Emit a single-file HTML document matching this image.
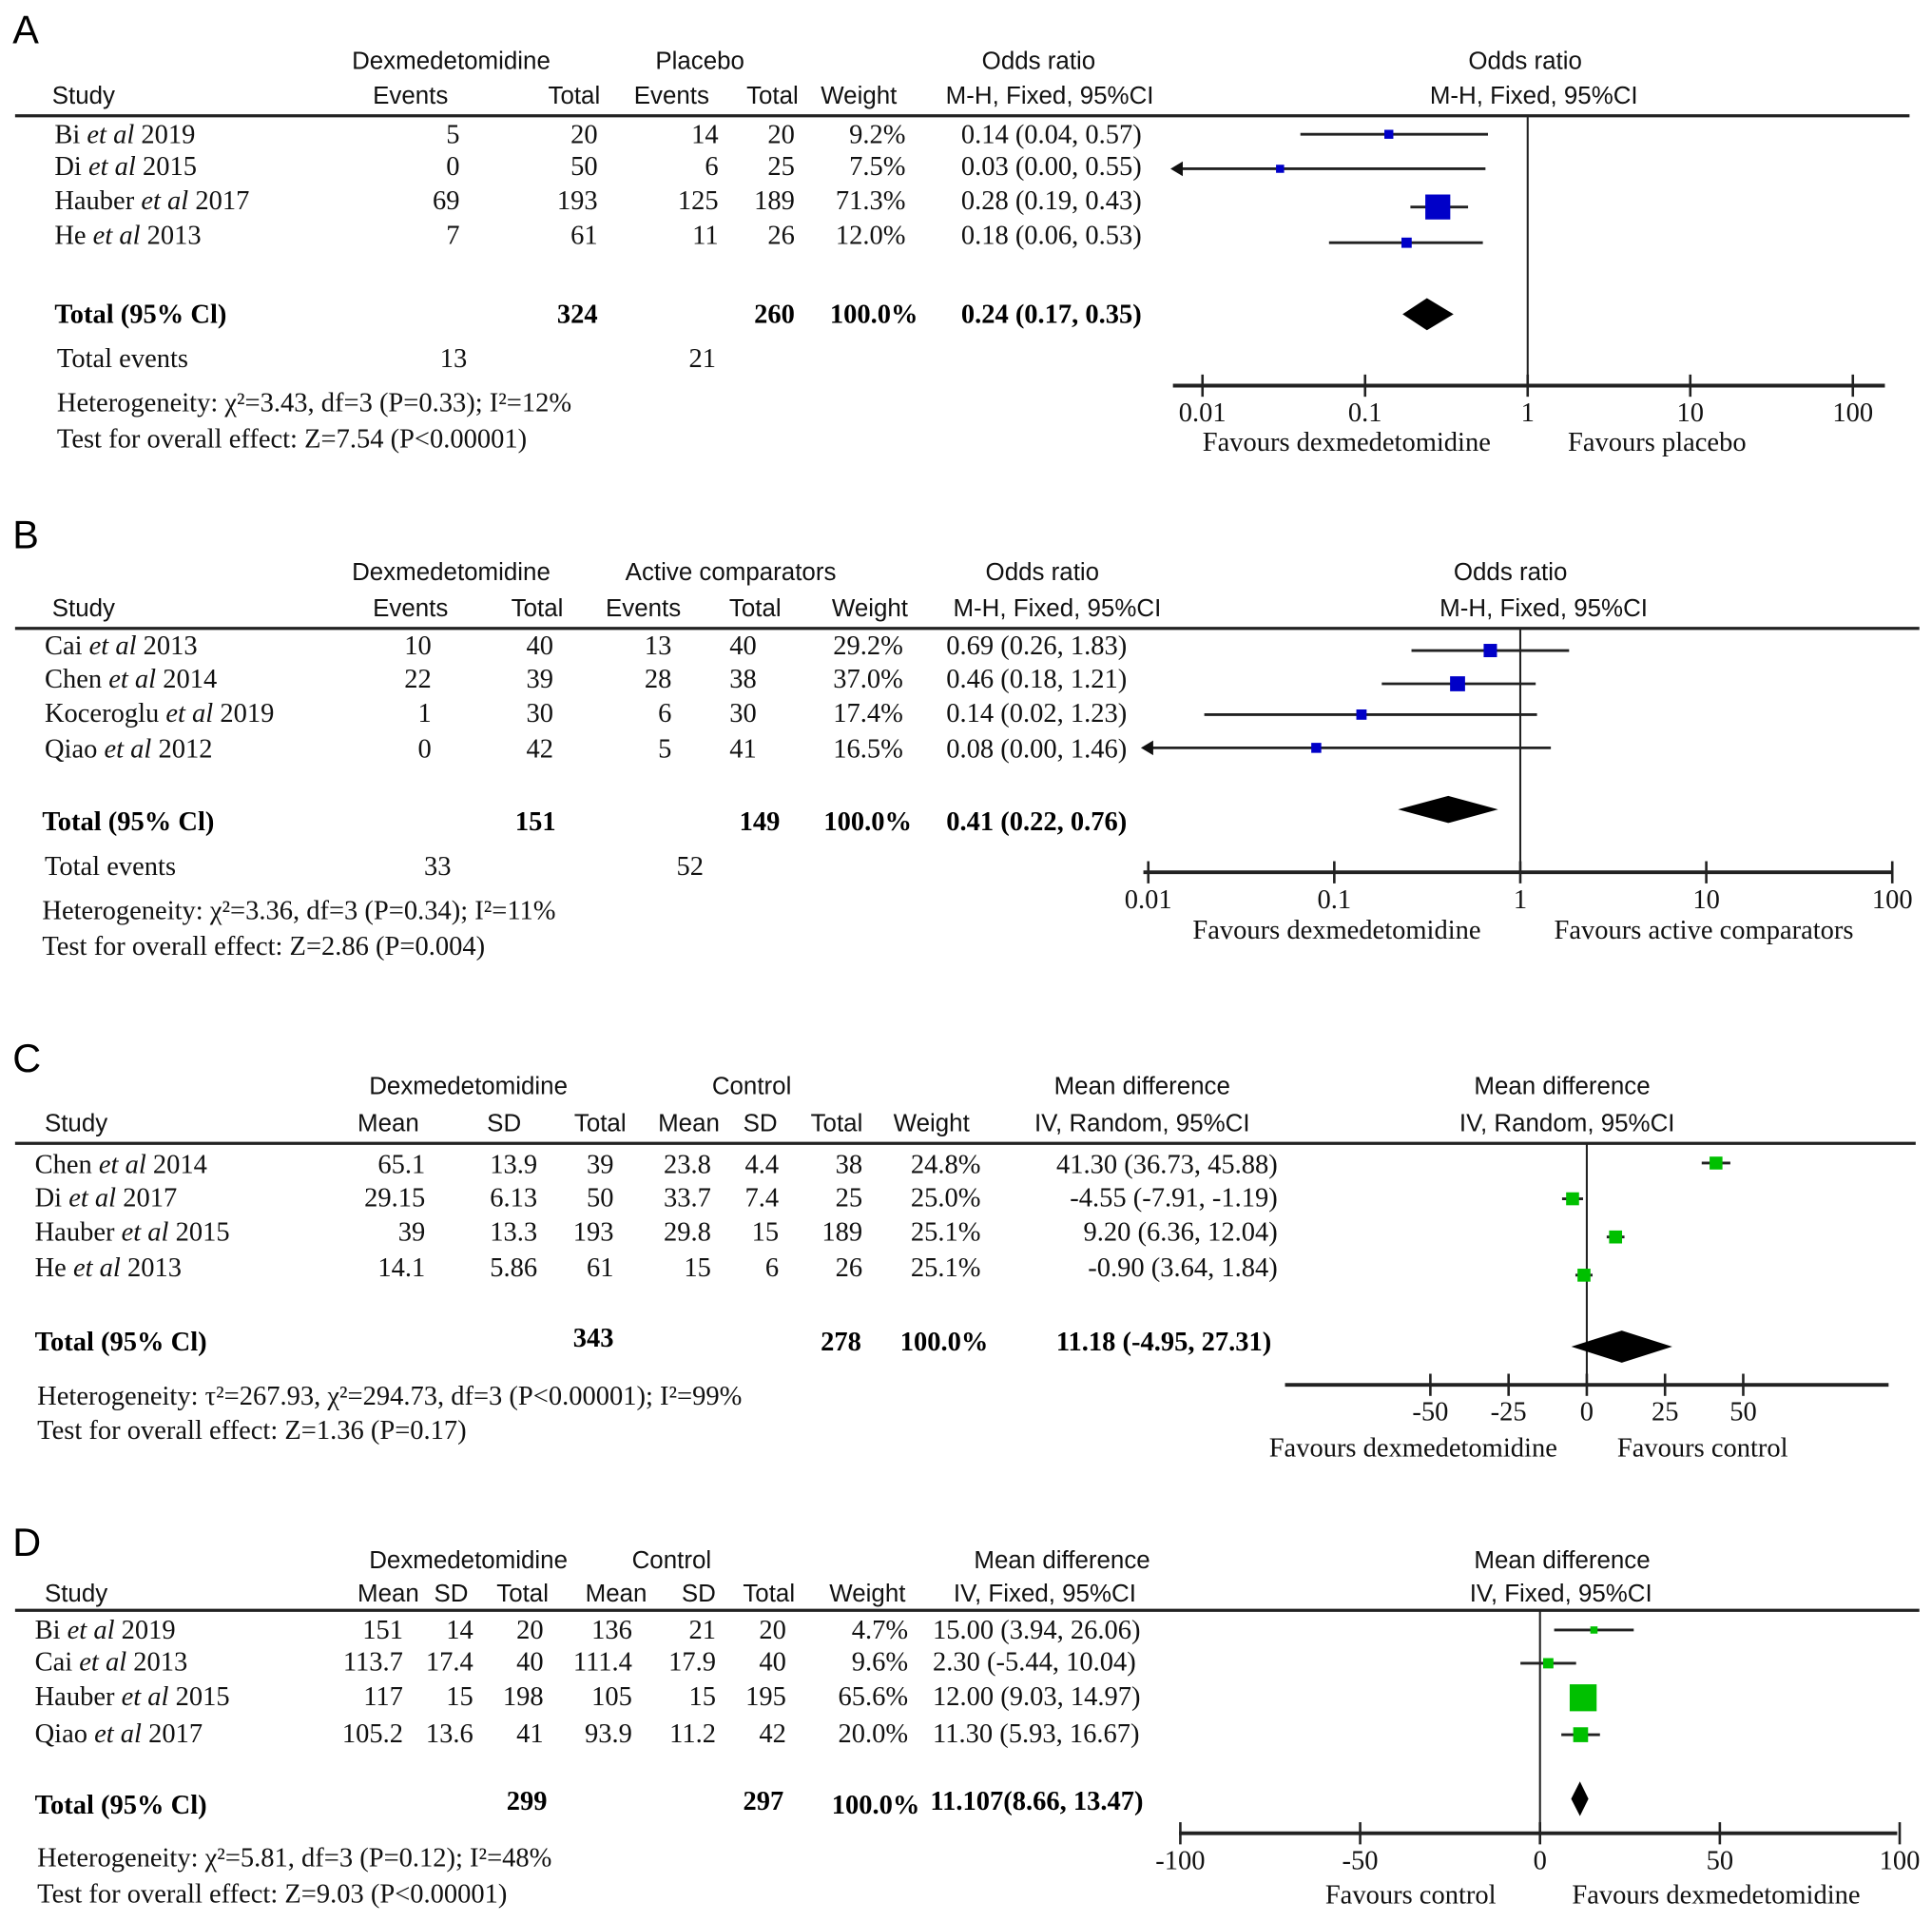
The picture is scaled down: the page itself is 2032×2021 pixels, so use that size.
<!DOCTYPE html>
<html><head><meta charset="utf-8">
<style>
html,body{margin:0;padding:0;background:#fff;}
svg{display:block;}
.s{font-family:"Liberation Sans",Arial,sans-serif;font-size:20px;fill:#111;}
.r{font-family:"Liberation Serif","Times New Roman",serif;font-size:22px;fill:#111;}
.b{font-family:"Liberation Serif","Times New Roman",serif;font-size:22px;font-weight:bold;fill:#000;}
.L{font-family:"Liberation Sans",Arial,sans-serif;font-size:32px;fill:#000;}
</style></head>
<body>
<svg id="fig" width="2032" height="2021" viewBox="0 0 1568 1560" xmlns="http://www.w3.org/2000/svg">
<g id="tbl"></g>
<g id="plots"></g>
</svg>
<script>
// ===== Data =====
const aStudies=["Bi|2019","Di|2015","Hauber|2017","He|2013"];
const aOR=[0.14,0.03,0.28,0.18];
const aLo=[0.04,0.00,0.19,0.06];
const aHi=[0.57,0.55,0.43,0.53];
const aW=[9.2,7.5,71.3,12.0];
const aTot=[0.24,0.17,0.35];
const aTicks=[0.01,0.1,1,10,100];
const aTickLabels=["0.01","0.1","1","10","100"];
const bStudies=["Cai|2013","Chen|2014","Koceroglu|2019","Qiao|2012"];
const bOR=[0.69,0.46,0.14,0.08];
const bLo=[0.26,0.18,0.02,0.00];
const bHi=[1.83,1.21,1.23,1.46];
const bW=[29.2,37.0,17.4,16.5];
const bTot=[0.41,0.22,0.76];
const bTicks=[0.01,0.1,1,10,100];
const bTickLabels=["0.01","0.1","1","10","100"];
const cStudies=["Chen|2014","Di|2017","Hauber|2015","He|2013"];
const cMD=[41.30,-4.55,9.20,-0.90];
const cLo=[36.73,-7.91,6.36,-3.64];
const cHi=[45.88,-1.19,12.04,1.84];
const cW=[24.8,25.0,25.1,25.1];
const cTot=[11.18,-4.95,27.31];
const cTicks=[-50,-25,0,25,50];
const cTickLabels=["-50","-25","0","25","50"];
const dStudies=["Bi|2019","Cai|2013","Hauber|2015","Qiao|2017"];
const dMD=[15.00,2.30,12.00,11.30];
const dLo=[3.94,-5.44,9.03,5.93];
const dHi=[26.06,10.04,14.97,16.67];
const dW=[4.7,9.6,65.6,20.0];
const dTot=[11.107,8.66,13.47];
const dTicks=[-100,-50,0,50,100];
const dTickLabels=["-100","-50","0","50","100"];

const NS="http://www.w3.org/2000/svg";
const T=document.getElementById('tbl'), P=document.getElementById('plots');
function mk(tag,parent,name){const el=document.createElementNS(NS,tag);


parent.appendChild(el);return el;}
function t(x,y,s,anc,cls,name){const el=mk('text',T,name||'table-cell');el.setAttribute('x',x);el.setAttribute('y',y);el.setAttribute('text-anchor',anc||'start');el.setAttribute('class',cls||'r');el.textContent=s;return el;}
function study(x,y,s){const [n,yr]=s.split('|');const el=t(x,y,'', 'start','r','study-name');
const a=document.createElementNS(NS,'tspan');a.textContent=n+' ';el.appendChild(a);
const b=document.createElementNS(NS,'tspan');b.setAttribute('font-style','italic');b.textContent='et al';el.appendChild(b);
const c=document.createElementNS(NS,'tspan');c.textContent=' '+yr;el.appendChild(c);}
function line(p,x1,y1,x2,y2,w,name){const l=mk('line',p,name);l.setAttribute('x1',x1);l.setAttribute('y1',y1);l.setAttribute('x2',x2);l.setAttribute('y2',y2);l.setAttribute('stroke','#222');l.setAttribute('stroke-width',w);return l;}

// A
t(10,35,'A','start','L','panel-label-a');
t(366,56,'Dexmedetomidine','middle','s');t(568,56,'Placebo','middle','s');t(843,56,'Odds ratio','middle','s');t(1238,56,'Odds ratio','middle','s');
t(42,84,'Study','start','s');t(333,84,'Events','middle','s');t(487,84,'Total','end','s');t(545,84,'Events','middle','s');t(648,84,'Total','end','s');t(697,84,'Weight','middle','s');t(852,84,'M-H, Fixed, 95%CI','middle','s');t(1245,84,'M-H, Fixed, 95%CI','middle','s');
line(T,12,94,1550,94,2.5,'header-rule-a');
const aRows=[["5","20","14","20","9.2%","0.14 (0.04, 0.57)"],["0","50","6","25","7.5%","0.03 (0.00, 0.55)"],["69","193","125","189","71.3%","0.28 (0.19, 0.43)"],["7","61","11","26","12.0%","0.18 (0.06, 0.53)"]];
const aY=[116,142,170,198];
aRows.forEach((r,i)=>{const y=aY[i];study(44,y,aStudies[i]);t(373,y,r[0],'end');t(485,y,r[1],'end');t(583,y,r[2],'end');t(645,y,r[3],'end');t(735,y,r[4],'end');t(780,y,r[5]);});
t(44,262,'Total (95% Cl)','start','b');t(485,262,'324','end','b');t(645,262,'260','end','b');t(745,262,'100.0%','end','b');t(780,262,'0.24 (0.17, 0.35)','start','b');
t(46,298,'Total events');t(368,298,'13','middle');t(570,298,'21','middle');
t(46,334,'Heterogeneity: χ²=3.43, df=3 (P=0.33); I²=12%');t(46,363,'Test for overall effect: Z=7.54 (P<0.00001)');
t(1093,366,'Favours dexmedetomidine','middle','r','favours-left-a');t(1345,366,'Favours placebo','middle','r','favours-right-a');
// B
t(10,445,'B','start','L','panel-label-b');
t(366,471,'Dexmedetomidine','middle','s');t(593,471,'Active comparators','middle','s');t(846,471,'Odds ratio','middle','s');t(1226,471,'Odds ratio','middle','s');
t(42,500,'Study','start','s');t(333,500,'Events','middle','s');t(457,500,'Total','end','s');t(522,500,'Events','middle','s');t(634,500,'Total','end','s');t(706,500,'Weight','middle','s');t(858,500,'M-H, Fixed, 95%CI','middle','s');t(1253,500,'M-H, Fixed, 95%CI','middle','s');
line(T,12,510,1558,510,2.5,'header-rule-b');
const bRows=[["10","40","13","40","29.2%","0.69 (0.26, 1.83)"],["22","39","28","38","37.0%","0.46 (0.18, 1.21)"],["1","30","6","30","17.4%","0.14 (0.02, 1.23)"],["0","42","5","41","16.5%","0.08 (0.00, 1.46)"]];
const bY=[531,558,586,615];
bRows.forEach((r,i)=>{const y=bY[i];study(36,y,bStudies[i]);t(350,y,r[0],'end');t(449,y,r[1],'end');t(545,y,r[2],'end');t(614,y,r[3],'end');t(733,y,r[4],'end');t(768,y,r[5]);});
t(34,674,'Total (95% Cl)','start','b');t(451,674,'151','end','b');t(633,674,'149','end','b');t(740,674,'100.0%','end','b');t(768,674,'0.41 (0.22, 0.76)','start','b');
t(36,710,'Total events');t(355,710,'33','middle');t(560,710,'52','middle');
t(34,746,'Heterogeneity: χ²=3.36, df=3 (P=0.34); I²=11%');t(34,775,'Test for overall effect: Z=2.86 (P=0.004)');
t(1085,762,'Favours dexmedetomidine','middle','r','favours-left-b');t(1383,762,'Favours active comparators','middle','r','favours-right-b');
// C
t(10,870,'C','start','L','panel-label-c');
t(380,888,'Dexmedetomidine','middle','s');t(610,888,'Control','middle','s');t(927,888,'Mean difference','middle','s');t(1268,888,'Mean difference','middle','s');
t(36,918,'Study','start','s');t(315,918,'Mean','middle','s');t(409,918,'SD','middle','s');t(487,918,'Total','middle','s');t(559,918,'Mean','middle','s');t(617,918,'SD','middle','s');t(679,918,'Total','middle','s');t(756,918,'Weight','middle','s');t(927,918,'IV, Random, 95%CI','middle','s');t(1272,918,'IV, Random, 95%CI','middle','s');
line(T,12,928,1555,928,2.5,'header-rule-c');
const cRows=[["65.1","13.9","39","23.8","4.4","38","24.8%","41.30 (36.73, 45.88)"],["29.15","6.13","50","33.7","7.4","25","25.0%","-4.55 (-7.91, -1.19)"],["39","13.3","193","29.8","15","189","25.1%","9.20 (6.36, 12.04)"],["14.1","5.86","61","15","6","26","25.1%","-0.90 (3.64, 1.84)"]];
const cY=[952,979,1007,1036];
cRows.forEach((r,i)=>{const y=cY[i];study(28,y,cStudies[i]);t(345,y,r[0],'end');t(436,y,r[1],'end');t(498,y,r[2],'end');t(577,y,r[3],'end');t(632,y,r[4],'end');t(700,y,r[5],'end');t(796,y,r[6],'end');t(1037,y,r[7],'end');});
t(28,1096,'Total (95% Cl)','start','b');t(498,1093,'343','end','b');t(699,1096,'278','end','b');t(802,1096,'100.0%','end','b');t(1032,1096,'11.18 (-4.95, 27.31)','end','b');
t(30,1140,'Heterogeneity: τ²=267.93, χ²=294.73, df=3 (P<0.00001); I²=99%');t(30,1168,'Test for overall effect: Z=1.36 (P=0.17)');
t(1147,1182,'Favours dexmedetomidine','middle','r','favours-left-c');t(1382,1182,'Favours control','middle','r','favours-right-c');
// D
t(10,1263,'D','start','L','panel-label-d');
t(380,1273,'Dexmedetomidine','middle','s');t(545,1273,'Control','middle','s');t(862,1273,'Mean difference','middle','s');t(1268,1273,'Mean difference','middle','s');
t(36,1300,'Study','start','s');t(315,1300,'Mean','middle','s');t(366,1300,'SD','middle','s');t(424,1300,'Total','middle','s');t(500,1300,'Mean','middle','s');t(567,1300,'SD','middle','s');t(624,1300,'Total','middle','s');t(704,1300,'Weight','middle','s');t(848,1300,'IV, Fixed, 95%CI','middle','s');t(1267,1300,'IV, Fixed, 95%CI','middle','s');
line(T,12,1307,1558,1307,2.5,'header-rule-d');
const dRows=[["151","14","20","136","21","20","4.7%","15.00 (3.94, 26.06)"],["113.7","17.4","40","111.4","17.9","40","9.6%","2.30 (-5.44, 10.04)"],["117","15","198","105","15","195","65.6%","12.00 (9.03, 14.97)"],["105.2","13.6","41","93.9","11.2","42","20.0%","11.30 (5.93, 16.67)"]];
const dY=[1330,1356,1384,1414];
dRows.forEach((r,i)=>{const y=dY[i];study(28,y,dStudies[i]);t(327,y,r[0],'end');t(384,y,r[1],'end');t(441,y,r[2],'end');t(513,y,r[3],'end');t(581,y,r[4],'end');t(638,y,r[5],'end');t(737,y,r[6],'end');t(757,y,r[7]);});
t(28,1472,'Total (95% Cl)','start','b');t(444,1469,'299','end','b');t(636,1469,'297','end','b');t(675,1472,'100.0%','start','b');t(755,1469,'11.107(8.66, 13.47)','start','b');
t(30,1515,'Heterogeneity: χ²=5.81, df=3 (P=0.12); I²=48%');t(30,1544,'Test for overall effect: Z=9.03 (P<0.00001)');
t(1145,1545,'Favours control','middle','r','favours-left-d');t(1393,1545,'Favours dexmedetomidine','middle','r','favours-right-d');

// ===== Plots =====
function panel(cfg){
 const g=mk('g',P,'forest-'+cfg.id);
 const sx=cfg.sx;
 line(g,cfg.ax0,cfg.axY,cfg.ax1,cfg.axY,3,'x-axis-'+cfg.id);
 cfg.ticks.forEach((v,i)=>{const x=sx(v);line(g,x,cfg.axY-9,x,cfg.axY+9,2,'x-tick');
  const tx=mk('text',g,'x-tick-label');tx.setAttribute('x',x);tx.setAttribute('y',cfg.axY+29);tx.setAttribute('text-anchor','middle');tx.setAttribute('class','r');tx.textContent=cfg.tickLabels[i];});
 line(g,sx(cfg.nullV),cfg.top,sx(cfg.nullV),cfg.axY,1.6,'null-line-'+cfg.id);
 const clipL=cfg.ax0+2;
 cfg.est.forEach((v,i)=>{const y=cfg.rowY[i];
  let x1=cfg.lo[i]<=cfg.minV?clipL:sx(cfg.lo[i]);const x2=sx(cfg.hi[i]);
  line(g,x1,y,x2,y,2.2,'ci-line');
  if(cfg.lo[i]<=cfg.minV){const ar=mk('path',g,'ci-arrow');ar.setAttribute('d',`M${x1-4},${y} l10,-6 l0,12 z`);ar.setAttribute('fill','#111');}
  const s=cfg.k*Math.sqrt(cfg.w[i]);
  const r=mk('rect',g,'study-marker');r.setAttribute('x',sx(v)-s/2);r.setAttribute('y',y-s/2);r.setAttribute('width',s);r.setAttribute('height',s);r.setAttribute('fill',cfg.color);
 });
 const [m,l,h]=cfg.tot;const y=cfg.totY,hh=cfg.dh;
 const d=mk('path',g,'pooled-diamond');d.setAttribute('d',`M${sx(l)},${y} L${sx(m)},${y-hh} L${sx(h)},${y} L${sx(m)},${y+hh} Z`);d.setAttribute('fill','#000');
}
const logS=(c0,dec)=>v=>c0+dec*Math.log10(v);
panel({id:'a',sx:logS(1240,132),ax0:952,ax1:1530,axY:313,top:95,nullV:1,minV:0.008,ticks:aTicks,tickLabels:aTickLabels,est:aOR,lo:aLo,hi:aHi,w:aW,rowY:[109,137,168,197],k:2.4,color:'#0000c8',tot:aTot,totY:255,dh:13});
panel({id:'b',sx:logS(1234,151),ax0:928,ax1:1536,axY:708,top:511,nullV:1,minV:0.008,ticks:bTicks,tickLabels:bTickLabels,est:bOR,lo:bLo,hi:bHi,w:bW,rowY:[528,555,580,607],k:2.0,color:'#0000c8',tot:bTot,totY:657,dh:11});
panel({id:'c',sx:v=>1288+v*2.54,ax0:1043,ax1:1533,axY:1124,top:929,nullV:0,minV:-999,ticks:cTicks,tickLabels:cTickLabels,est:cMD,lo:cLo,hi:cHi,w:cW,rowY:[944,973,1004,1035],k:2.1,color:'#00c000',tot:cTot,totY:1093,dh:13});
panel({id:'d',sx:v=>1250+v*2.92,ax0:957,ax1:1540,axY:1488,top:1308,nullV:0,minV:-999,ticks:dTicks,tickLabels:dTickLabels,est:dMD,lo:dLo,hi:dHi,w:dW,rowY:[1323,1350,1378,1408],k:2.7,color:'#00c000',tot:dTot,totY:1460,dh:14});
</script>
</body></html>
